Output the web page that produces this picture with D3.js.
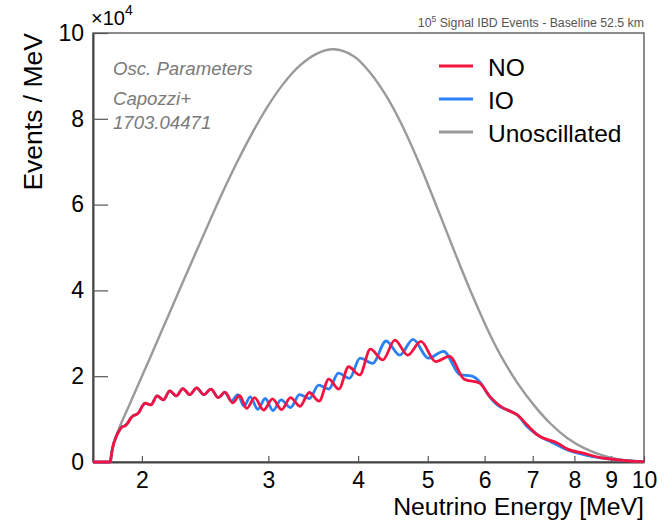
<!DOCTYPE html>
<html lang="en">
<head>
<meta charset="utf-8">
<script src="https://d3js.org/d3.v7.min.js"></script>
<style>
    body { margin: 0; background: #fff; }
    text { font-family: "Liberation Sans", Arial, Helvetica, sans-serif; }
</style>
</head>
<body>
<div id="graph"></div>
<script>
    // neutrino energy [MeV] and events / MeV (units of 1e4)
    var energyNO = [1.71, 1.806, 1.809, 1.815, 1.824, 1.84, 1.863, 1.877, 1.893, 1.91, 1.93, 1.946, 1.962, 1.982, 2.002, 2.02, 2.059, 2.1, 2.143, 2.187, 2.233, 2.281, 2.332, 2.384, 2.439, 2.496, 2.555, 2.61, 2.675, 2.735, 2.8, 2.87, 2.955, 3.04, 3.13, 3.22, 3.32, 3.42, 3.53, 3.64, 3.76, 3.88, 4.02, 4.16, 4.33, 4.5, 4.69, 4.89, 5.13, 5.36, 5.62, 5.9, 6.12, 6.38, 6.52, 6.67, 6.88, 7.11, 7.58, 7.83, 8.26, 8.7, 9.19, 9.6, 10];
    var eventsNO = [0, 0, 0.03, 0.2, 0.38, 0.57, 0.75, 0.82, 0.84, 0.9, 1.02, 1.08, 1.1, 1.16, 1.3, 1.37, 1.33, 1.54, 1.45, 1.66, 1.54, 1.71, 1.57, 1.73, 1.57, 1.7, 1.5, 1.63, 1.38, 1.55, 1.25, 1.5, 1.21, 1.47, 1.22, 1.5, 1.3, 1.62, 1.42, 1.93, 1.7, 2.22, 2.03, 2.63, 2.38, 2.84, 2.49, 2.81, 2.34, 2.46, 1.93, 1.84, 1.5, 1.25, 1.18, 1.09, 0.86, 0.63, 0.44, 0.3, 0.2, 0.1, 0.05, 0.02, 0.01];

    var energyIO = [1.71, 1.806, 1.809, 1.815, 1.824, 1.84, 1.863, 1.877, 1.893, 1.91, 1.93, 1.946, 1.962, 1.982, 2.002, 2.02, 2.059, 2.1, 2.143, 2.187, 2.233, 2.281, 2.332, 2.384, 2.439, 2.496, 2.555, 2.61, 2.665, 2.72, 2.775, 2.83, 2.9, 2.97, 3.045, 3.125, 3.22, 3.315, 3.42, 3.525, 3.64, 3.755, 3.89, 4.025, 4.19, 4.375, 4.57, 4.77, 5.01, 5.26, 5.54, 5.76, 5.93, 6.05, 6.25, 6.46, 6.67, 6.88, 7.11, 7.42, 7.83, 8.53, 9.5, 10];
    var eventsIO = [0, 0, 0.03, 0.2, 0.38, 0.57, 0.75, 0.82, 0.84, 0.9, 1.02, 1.08, 1.1, 1.16, 1.3, 1.37, 1.33, 1.54, 1.45, 1.66, 1.54, 1.71, 1.57, 1.73, 1.57, 1.7, 1.5, 1.62, 1.42, 1.57, 1.3, 1.52, 1.23, 1.48, 1.2, 1.45, 1.27, 1.57, 1.48, 1.79, 1.7, 2.07, 1.95, 2.42, 2.3, 2.82, 2.49, 2.86, 2.42, 2.58, 2.04, 2.0, 1.83, 1.6, 1.33, 1.21, 1.09, 0.82, 0.63, 0.47, 0.28, 0.12, 0.03, 0.01];

    var energyUnosc = [1.71, 1.806, 1.809, 1.824, 1.863, 1.924, 1.987, 2.052, 2.119, 2.224, 2.333, 2.449, 2.57, 2.697, 2.83, 2.986, 3.149, 3.323, 3.506, 3.698, 3.944, 4.16, 4.39, 4.63, 4.886, 5.155, 5.437, 5.737, 6.119, 6.318, 6.667, 7.031, 7.419, 7.827, 8.256, 8.711, 9.192, 10];
    var eventsUnosc = [0, 0, 0.05, 0.4, 0.82, 1.35, 1.89, 2.42, 2.96, 3.77, 4.57, 5.37, 6.16, 6.9, 7.58, 8.26, 8.82, 9.25, 9.52, 9.62, 9.46, 9.07, 8.5, 7.77, 6.89, 5.92, 4.94, 3.98, 2.93, 2.48, 1.84, 1.32, 0.886, 0.555, 0.322, 0.166, 0.068, 0.007];

    var xTicks = [2, 3, 4, 5, 6, 7, 8, 9, 10];
    var yTicks = [0, 2, 4, 6, 8, 10];
    var legendLabels = ["NO", "IO", "Unoscillated"];
    var noteLines = ["Osc. Parameters", "Capozzi+", "1703.04471"];

    var width = 669,
        height = 524,
        margin = { top: 33, right: 25, bottom: 62, left: 93 };

    var colors = { NO: "#f5143f", IO: "#2a80f5", Unoscillated: "#9a9a9a" };

    var svg = d3.select("#graph").append("svg")
        .attr("width", width)
        .attr("height", height)
        .style("background", "#fff");

    var x = d3.scaleLog()
        .domain([1.71, 10])
        .range([margin.left, width - margin.right]);

    var y = d3.scaleLinear()
        .domain([0, 10])
        .range([height - margin.bottom, margin.top]);

    // frame
    svg.append("rect")
        .attr("x", margin.left)
        .attr("y", margin.top)
        .attr("width", width - margin.left - margin.right)
        .attr("height", height - margin.top - margin.bottom)
        .attr("fill", "none")
        .attr("stroke", "#666")
        .attr("stroke-width", 1.5);

    // axes, ticks point inward like ROOT
    var yAxis = svg.append("g")
        .attr("transform", "translate(" + margin.left + ",0)")
        .call(d3.axisLeft(y).tickValues(yTicks).tickSize(-15).tickSizeOuter(0).tickPadding(9));

    var xAxis = svg.append("g")
        .attr("transform", "translate(0," + (height - margin.bottom) + ")")
        .call(d3.axisBottom(x).tickValues(xTicks).tickFormat(d3.format("d")).tickSize(-6).tickSizeOuter(0).tickPadding(10));

    [xAxis, yAxis].forEach(function(g) {
        g.select(".domain").attr("stroke", "#444").attr("stroke-width", 2);
        g.selectAll(".tick line").attr("stroke", "#555").attr("stroke-width", 1.2);
        g.selectAll(".tick text")
            .attr("fill", "#000")
            .style("font-size", "23px")
            .style("font-family", "'Liberation Sans', Arial, sans-serif");
    });

    // curves: smooth spline for the reference spectrum, monotone for the wiggly ones
    var wiggle = d3.line()
        .x(d => x(d[0]))
        .y(d => y(d[1]))
        .curve(d3.curveMonotoneX);

    var smooth = d3.line()
        .x(d => x(d[0]))
        .y(d => y(d[1]))
        .curve(d3.curveCatmullRom.alpha(0.5));

    var series = [
        { name: "Unoscillated", pts: d3.zip(energyUnosc, eventsUnosc), gen: smooth },
        { name: "IO", pts: d3.zip(energyIO, eventsIO), gen: wiggle },
        { name: "NO", pts: d3.zip(energyNO, eventsNO), gen: wiggle }
    ];

    svg.append("g")
        .selectAll("path")
        .data(series)
        .enter().append("path")
        .attr("d", d => d.gen(d.pts))
        .attr("fill", "none")
        .attr("stroke", d => colors[d.name])
        .attr("stroke-width", d => d.name == "Unoscillated" ? 2.4 : 2.8)
        .attr("stroke-linejoin", "round");

    // axis titles
    svg.append("text")
        .attr("x", width - margin.right)
        .attr("y", 515)
        .attr("text-anchor", "end")
        .style("font-size", "24.8px")
        .text("Neutrino Energy [MeV]");

    svg.append("text")
        .attr("transform", "translate(42," + margin.top + ") rotate(-90)")
        .attr("text-anchor", "end")
        .style("font-size", "26.5px")
        .text("Events / MeV");

    // exponent label
    var expo = svg.append("text")
        .attr("x", 91)
        .attr("y", 25)
        .style("font-size", "20px");
    expo.append("tspan").text("\u00d710");
    expo.append("tspan").attr("dy", -10).style("font-size", "14px").text("4");

    // top-right caption
    var cap = svg.append("text")
        .attr("x", width - margin.right)
        .attr("y", 27)
        .attr("text-anchor", "end")
        .attr("fill", "#555")
        .style("font-size", "12.3px");
    cap.append("tspan").text("10");
    cap.append("tspan").attr("dy", -5).style("font-size", "8.5px").text("5");
    cap.append("tspan").attr("dy", 5).text(" Signal IBD Events - Baseline 52.5 km");

    // oscillation parameter note
    svg.append("g")
        .selectAll("text")
        .data(noteLines)
        .enter().append("text")
        .attr("x", 113)
        .attr("y", (d, i) => [75, 105, 129][i])
        .attr("fill", "#7a7a7a")
        .style("font-size", "18.6px")
        .style("font-style", "italic")
        .text(d => d);

    // legend
    var legend = svg.append("g")
        .selectAll("g")
        .data(legendLabels)
        .enter().append("g")
        .attr("transform", (d, i) => "translate(439," + (66 + i * 33) + ")");

    legend.append("line")
        .attr("x1", 0)
        .attr("x2", 34)
        .attr("stroke", d => colors[d])
        .attr("stroke-width", 3);

    legend.append("text")
        .attr("x", 49)
        .attr("y", 10)
        .style("font-size", "24.5px")
        .text(d => d);
</script>
</body>
</html>
